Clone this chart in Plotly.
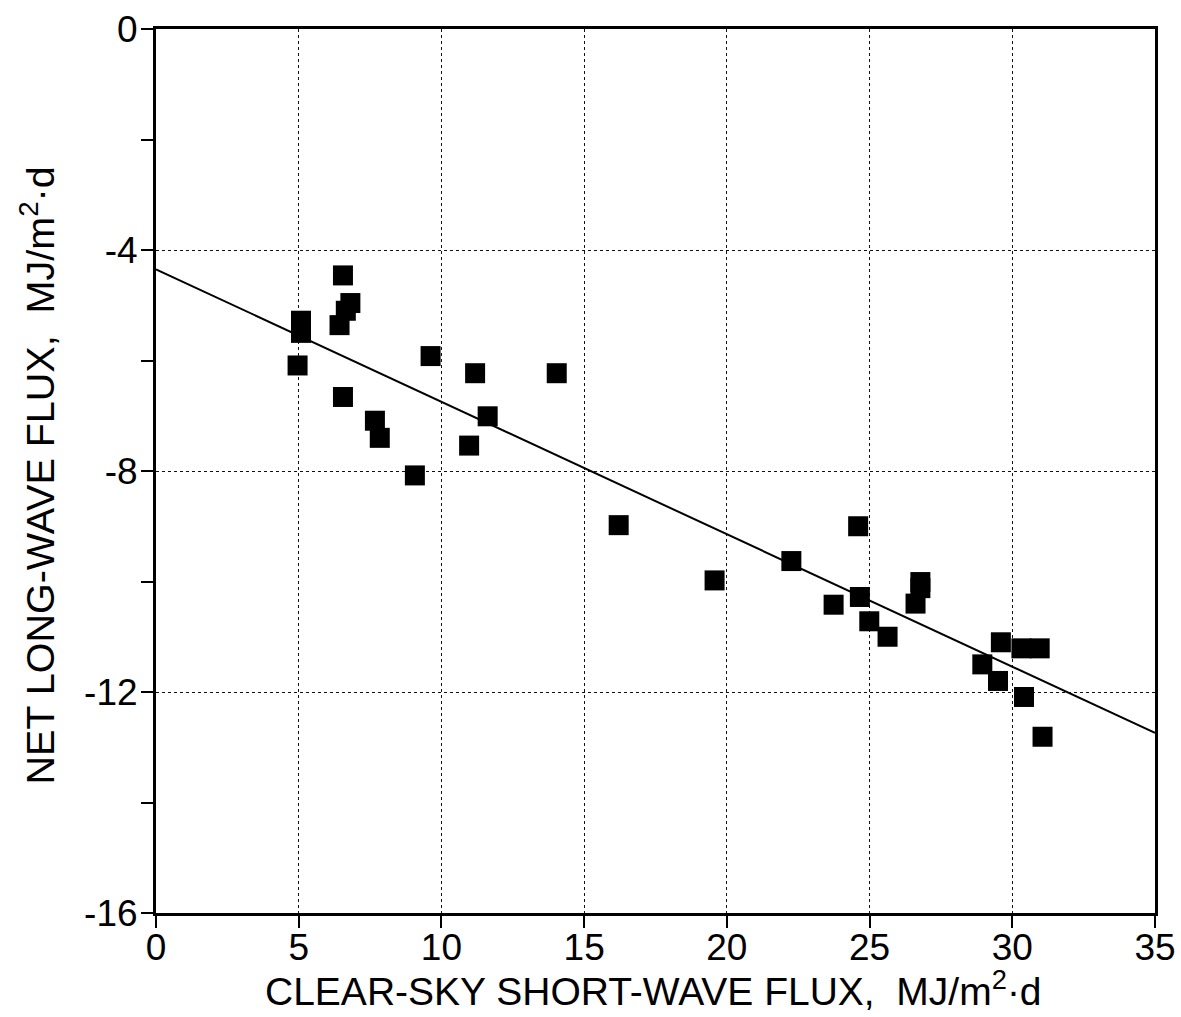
import plotly.graph_objects as go

# Data
sw_flux = [6.55, 6.81, 6.65, 6.43, 5.08, 5.08, 4.96, 6.55, 7.67, 7.84,
           9.07, 9.62, 11.18, 14.04, 11.62, 10.97, 16.21, 19.57,
           24.60, 22.26, 24.66, 23.74, 24.99, 25.63, 26.78, 26.78, 26.61,
           29.60, 30.32, 30.96, 28.95, 29.50, 30.41, 31.06]
lw_flux = [-4.46, -4.96, -5.10, -5.36, -5.28, -5.50, -6.09, -6.66, -7.09, -7.40,
           -8.08, -5.92, -6.23, -6.23, -7.01, -7.54, -8.98, -9.98,
           -9.00, -9.63, -10.28, -10.42, -10.72, -11.00, -10.01, -10.12, -10.40,
           -11.10, -11.21, -11.21, -11.50, -11.80, -12.09, -12.81]

fit_x = [0, 35]
fit_y = [-4.35, -12.74]

x_ticks = [0, 5, 10, 15, 20, 25, 30, 35]
y_ticks = [0, -4, -8, -12, -16]
y_minor = [-2, -6, -10, -14]

FONT = "Liberation Sans, Arial, Helvetica, sans-serif"

fig = go.Figure()
fig.add_trace(go.Scatter(x=fit_x, y=fit_y, mode="lines",
                         line=dict(color="black", width=2), showlegend=False,
                         hoverinfo="skip"))
fig.add_trace(go.Scatter(x=sw_flux, y=lw_flux, mode="markers",
                         marker=dict(symbol="square", size=20, color="black",
                                     line=dict(width=0)),
                         showlegend=False))

axis_common = dict(
    showline=True, linecolor="black", linewidth=3, mirror=True,
    ticks="outside", ticklen=12, tickwidth=2, tickcolor="black",
    showgrid=True, gridcolor="#111111", gridwidth=1, griddash="dot",
    zeroline=False, automargin=False, ticklabeloverflow="allow",
    tickfont=dict(family=FONT, size=37, color="black"),
)

fig.update_xaxes(range=[0, 35], tickvals=x_ticks,
                 ticktext=[str(v) for v in x_ticks], ticklabelstandoff=-12,
                 **axis_common)
fig.update_yaxes(range=[-16, 0], tickvals=y_ticks,
                 ticktext=[str(v) for v in y_ticks],
                 minor=dict(tickvals=y_minor, ticks="outside",
                            ticklen=12, tickwidth=2, tickcolor="black",
                            showgrid=False),
                 ticklabelstandoff=-4,
                 **axis_common)

fig.add_annotation(text="CLEAR-SKY SHORT-WAVE FLUX,&nbsp; MJ/m<sup>2</sup>·d",
                   xref="paper", yref="paper", x=0.4975, y=-0.085,
                   xanchor="center", yanchor="middle", showarrow=False,
                   font=dict(family=FONT, size=39, color="black"))
fig.add_annotation(text="NET LONG-WAVE FLUX,&nbsp; MJ/m<sup>2</sup>·d",
                   xref="paper", yref="paper", x=-0.118, y=0.495,
                   xanchor="center", yanchor="middle", textangle=-90,
                   showarrow=False,
                   font=dict(family=FONT, size=39.5, color="black"))

fig.update_layout(
    width=1181, height=1017,
    margin=dict(l=156, r=26, t=29, b=104),
    plot_bgcolor="white", paper_bgcolor="white",
    font=dict(family=FONT, color="black"),
)

fig.write_html("out.html", config={"displayModeBar": False},
               post_script="document.body.style.margin='0';"
                           "document.body.style.padding='0';")
